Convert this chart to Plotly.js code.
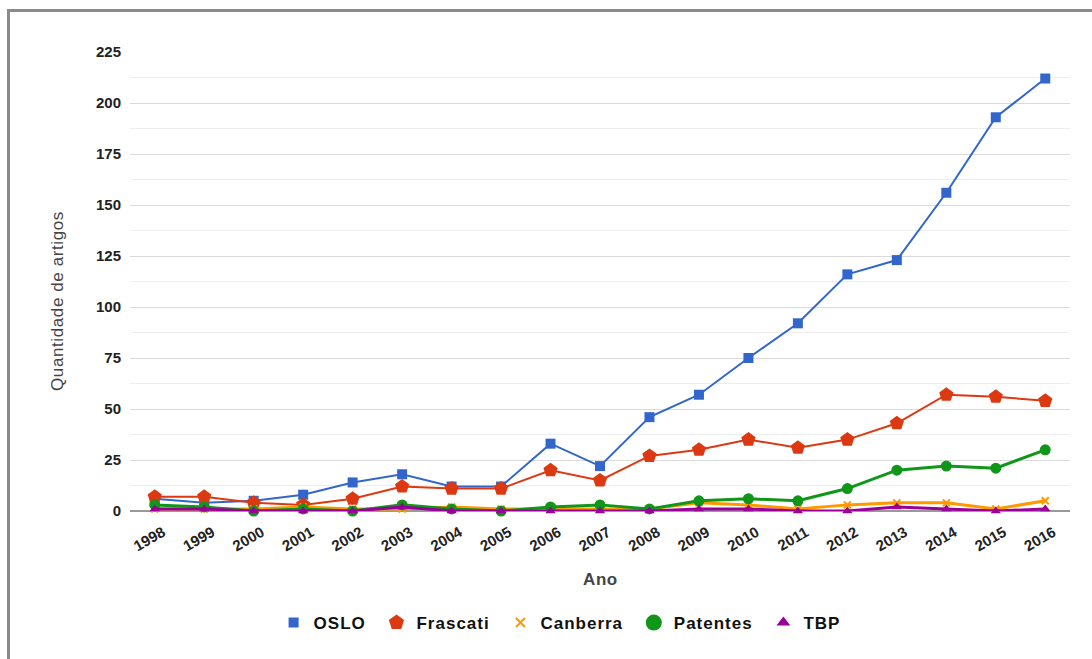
<!DOCTYPE html>
<html>
<head>
<meta charset="utf-8">
<script src="https://cdn.plot.ly/plotly-3.0.1.min.js"></script>
<style>
  html, body { margin: 0; padding: 0; background: #fff; width: 1092px; height: 659px; overflow: hidden; }
  #chart { position: absolute; left: 0; top: 0; width: 1092px; height: 659px; }
  #frame { position: absolute; left: 7px; top: 9px; width: 1100px; height: 700px;
           border-left: 3px solid #8a8a8a; border-top: 3px solid #8a8a8a; pointer-events: none; }
  .legendtext { letter-spacing: 1px; }
  .annotation-text { letter-spacing: 0.6px; }
</style>
</head>
<body>
<div id="chart"></div>
<div id="frame"></div>
<script>
const years = ["1998","1999","2000","2001","2002","2003","2004","2005","2006","2007",
               "2008","2009","2010","2011","2012","2013","2014","2015","2016"];
const oslo     = [6, 4, 5, 8, 14, 18, 12, 12, 33, 22, 46, 57, 75, 92, 116, 123, 156, 193, 212];
const frascati = [7, 7, 4, 3, 6, 12, 11, 11, 20, 15, 27, 30, 35, 31, 35, 43, 57, 56, 54];
const canberra = [1, 1, 1, 2, 1, 1, 2, 1, 1, 1, 1, 4, 3, 1, 3, 4, 4, 1, 5];
const patentes = [3, 2, 0, 1, 0, 3, 1, 0, 2, 3, 1, 5, 6, 5, 11, 20, 22, 21, 30];
const tbp      = [1, 1, 0, 0, 0, 2, 0, 0, 0, 0, 0, 1, 1, 0, 0, 2, 1, 0, 1];
const yTicks   = [0, 25, 50, 75, 100, 125, 150, 175, 200, 225];
const seriesNames = ["OSLO", "Frascati", "Canberra", "Patentes", "TBP"];

const series = [
  {name: seriesNames[0], y: oslo, color: "#3366cc", symbol: "square", size: 10, width: 2, lsize: 10},
  {name: seriesNames[1], y: frascati, color: "#dc3912", symbol: "pentagon", size: 15, width: 2, lsize: 16},
  {name: seriesNames[2], y: canberra, color: "#ff9900", symbol: "x-thin-open", size: 7, width: 3, lsize: 9},
  {name: seriesNames[3], y: patentes, color: "#109618", symbol: "circle", size: 11, width: 3, lsize: 16},
  {name: seriesNames[4], y: tbp, color: "#990099", symbol: "triangle-up", size: 9, width: 3, lsize: 12}
];

const dataTraces = series.map(s => ({
  type: "scatter", mode: "lines+markers", name: s.name, x: years, y: s.y,
  showlegend: false,
  line: {color: s.color, width: s.width},
  marker: {color: s.color, symbol: s.symbol, size: s.size,
           line: {color: s.color, width: s.symbol === "x-thin-open" ? 2 : 0}},
  cliponaxis: false
}));

const legendTraces = series.map((s, i) => ({
  type: "scatter", mode: "markers",
  name: s.name + (i < series.length - 1 ? "\u00a0" : ""),
  x: [null], y: [null],
  showlegend: true,
  marker: {color: s.color, symbol: s.symbol, size: s.lsize,
           line: {color: s.color, width: s.symbol === "x-thin-open" ? 2 : 0}}
}));

const layout = {
  width: 1092, height: 659,
  margin: {l: 130, r: 22, t: 52, b: 148},
  paper_bgcolor: "#fff", plot_bgcolor: "#fff",
  font: {family: "Liberation Sans, Arial, sans-serif", color: "#222"},
  showlegend: true,
  legend: {orientation: "h", x: 0.457, xanchor: "center", y: -0.244, yanchor: "middle",
           font: {size: 17, color: "#111", family: "Liberation Sans, Arial, sans-serif", weight: "bold"},
           itemsizing: "trace", traceorder: "normal"},
  xaxis: {
    type: "category", range: [-0.5, 18.5], tickangle: -30,
    showgrid: false, zeroline: false, showline: false, ticks: "",
    tickfont: {size: 15, color: "#222", weight: "bold"},
    ticklabelshift: 8, ticklabelstandoff: 9
  },
  yaxis: {
    range: [0, 225], tickvals: yTicks, ticktext: yTicks.map(String),
    showgrid: true, gridcolor: "#dadada", gridwidth: 1,
    minor: {dtick: 12.5, showgrid: true, gridcolor: "#eeeeee", gridwidth: 1},
    zeroline: true, zerolinecolor: "#9a9a9a", zerolinewidth: 2,
    showline: false, ticks: "",
    tickfont: {size: 15, color: "#222", weight: "bold"},
    ticklabelstandoff: 8
  },
  annotations: [
    {text: "Ano", xref: "paper", yref: "paper", x: 0.5, y: -0.150,
     xanchor: "center", yanchor: "middle", showarrow: false,
     font: {size: 17, color: "#444", weight: "bold"}},
    {text: "Quantidade de artigos", xref: "paper", yref: "paper", x: -0.0777, y: 0.4575,
     xanchor: "center", yanchor: "middle", showarrow: false, textangle: -90,
     font: {size: 17, color: "#444"}}
  ]
};

Plotly.newPlot("chart", dataTraces.concat(legendTraces), layout, {displayModeBar: false, staticPlot: true});
</script>
</body>
</html>
